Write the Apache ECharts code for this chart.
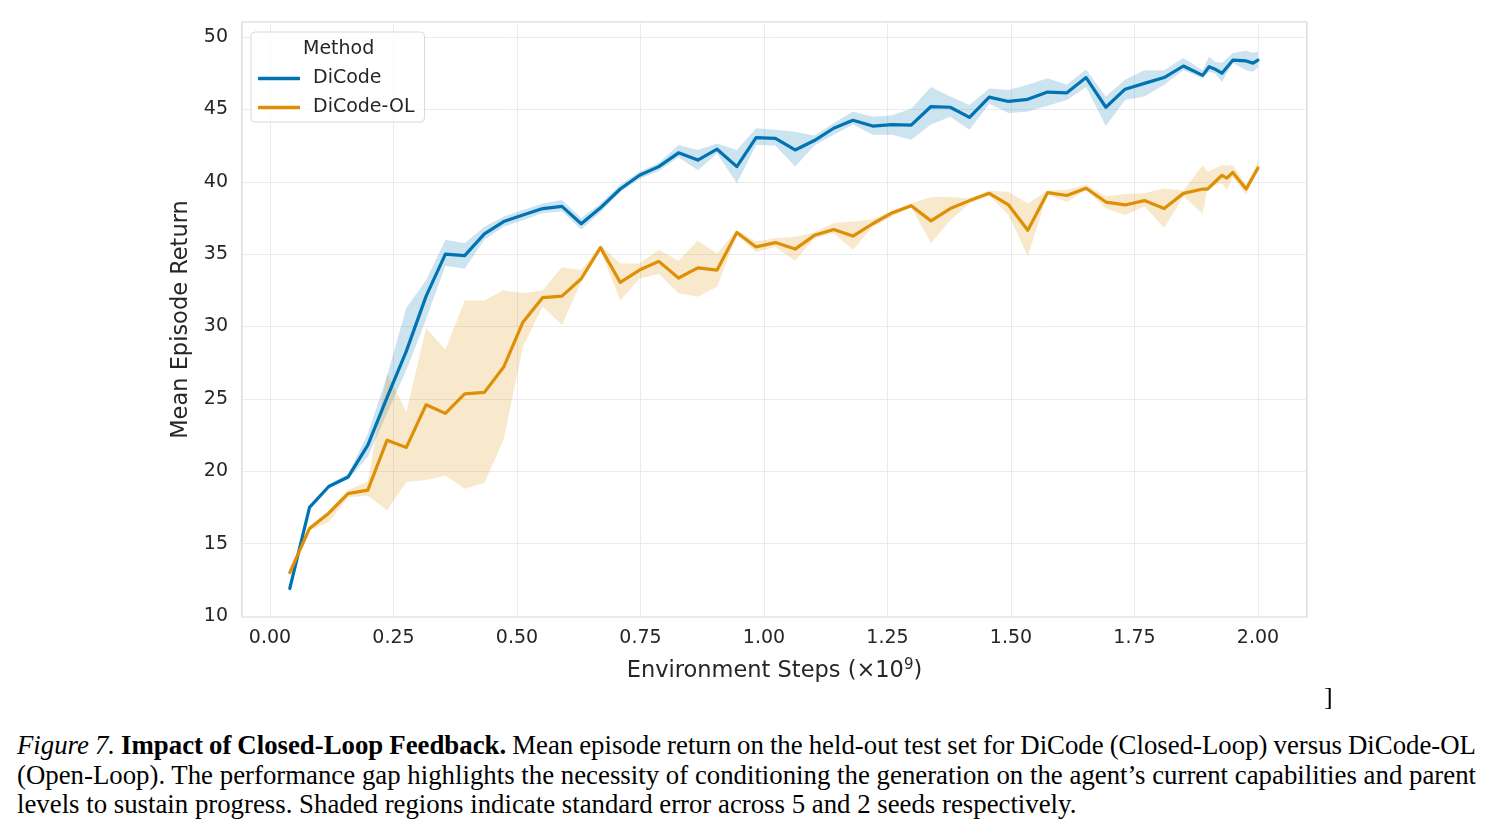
<!DOCTYPE html>
<html>
<head>
<meta charset="utf-8">
<script src="https://cdn.jsdelivr.net/npm/echarts@6/dist/echarts.min.js"></script>
<style>
  html, body { margin:0; padding:0; background:#fff; }
  #wrap { position:relative; width:1492px; height:835px; overflow:hidden; background:#fff; }
  #chart { position:absolute; left:0; top:0; width:1492px; height:700px; }
  .cap { position:absolute; left:17px; width:1459px; height:30px; line-height:30px;
         font-family:"Liberation Serif","Times New Roman",serif; font-size:26.8px; color:#000; white-space:nowrap; }
  .just { text-align:justify; text-align-last:justify; }
  #bracket { position:absolute; left:1324px; top:682px; font-family:"Liberation Serif",serif; font-size:26px; color:#000; }
</style>
</head>
<body>
<div id="wrap">
  <div id="chart"></div>
  <div id="bracket">]</div>
  <div class="cap just" style="top:730px; word-spacing:-0.8px;"><i>Figure 7.</i> <b>Impact of Closed-Loop Feedback.</b> Mean episode return on the held-out test set for DiCode (Closed-Loop) versus DiCode-OL</div>
  <div class="cap just" style="top:760px;">(Open-Loop). The performance gap highlights the necessity of conditioning the generation on the agent’s current capabilities and parent</div>
  <div class="cap" style="top:789px;">levels to sustain progress. Shaded regions indicate standard error across 5 and 2 seeds respectively.</div>
</div>
<script>
// ---- data (x in units of 1e9 environment steps) ----
const xTickLabels = ['0.00','0.25','0.50','0.75','1.00','1.25','1.50','1.75','2.00'];
const yTickLabels = ['10','15','20','25','30','35','40','45','50'];

const dicodeSteps = [0.040,0.080,0.119,0.158,0.198,0.237,0.276,0.316,0.355,0.394,0.434,0.473,0.512,0.552,0.591,0.630,
  0.669,0.709,0.748,0.787,0.827,0.866,0.905,0.945,0.984,1.023,1.063,1.102,1.141,1.180,1.220,1.259,1.298,1.338,1.377,
  1.416,1.456,1.495,1.534,1.574,1.613,1.652,1.692,1.731,1.770,1.810,1.849,1.888,1.901,1.912,1.927,1.949,1.976,1.990,2.000];
const dicodeMean = [11.9,17.5,18.95,19.6,21.8,25.1,28.3,32.1,35.0,34.9,36.4,37.25,37.7,38.15,38.3,37.1,
  38.2,39.5,40.45,41.05,42.0,41.5,42.25,41.05,43.05,43.0,42.2,42.85,43.7,44.25,43.85,43.95,43.92,45.2,45.15,
  44.45,45.85,45.55,45.7,46.2,46.15,47.2,45.15,46.4,46.8,47.2,48.0,47.35,47.95,47.8,47.5,48.4,48.35,48.2,48.4];
const dicodeLow = [11.8,17.35,18.85,19.45,21.0,24.0,27.0,30.5,34.2,34.0,36.0,36.9,37.35,37.85,37.95,36.7,
  37.9,39.3,40.2,40.75,41.7,40.8,41.95,39.9,42.55,42.5,41.05,42.5,43.25,43.95,43.25,43.25,42.9,43.95,44.5,
  43.6,45.4,44.75,44.85,45.25,45.65,46.55,43.85,45.65,45.9,46.7,47.7,47.15,47.6,47.5,46.9,48.2,47.7,47.6,47.9];
const dicodeHigh = [12.0,17.65,19.1,19.8,22.6,26.6,31.3,33.2,36.0,35.75,36.9,37.6,38.05,38.5,38.75,37.5,
  38.5,39.8,40.7,41.3,42.55,42.2,42.65,42.2,43.7,43.6,43.45,43.2,44.05,44.85,44.5,44.6,45.05,46.55,45.9,
  45.3,46.45,46.35,46.7,47.15,46.7,47.75,45.9,47.05,47.7,47.7,48.55,47.7,48.65,48.3,48.2,48.9,49.05,48.9,49.0];

const olSteps = [0.040,0.080,0.119,0.158,0.198,0.237,0.276,0.316,0.355,0.394,0.434,0.473,0.512,0.552,0.591,0.630,
  0.669,0.709,0.748,0.787,0.827,0.866,0.905,0.945,0.984,1.023,1.063,1.102,1.141,1.180,1.220,1.259,1.298,1.338,1.377,
  1.416,1.456,1.495,1.534,1.574,1.613,1.652,1.692,1.731,1.770,1.810,1.849,1.888,1.898,1.927,1.937,1.949,1.976,2.000];
const olMean = [13.0,16.05,17.1,18.45,18.7,22.15,21.65,24.6,24.0,25.35,25.45,27.2,30.3,32.0,32.1,33.3,
  35.45,33.05,33.9,34.5,33.35,34.05,33.9,36.5,35.5,35.8,35.35,36.3,36.7,36.25,37.1,37.85,38.35,37.3,38.15,
  38.7,39.2,38.4,36.65,39.25,39.05,39.55,38.6,38.4,38.7,38.15,39.2,39.5,39.5,40.45,40.25,40.65,39.5,40.95];
const olLow = [12.9,15.9,16.5,18.2,18.3,17.3,19.25,19.4,19.7,18.8,19.2,22.2,28.6,31.4,30.1,33.1,
  35.25,31.8,33.3,33.65,32.3,32.05,32.75,36.3,35.15,35.5,34.55,36.1,36.45,35.3,36.9,37.6,38.25,35.75,37.35,
  38.5,39.05,37.7,34.85,39.1,38.6,39.45,38.15,37.7,38.3,36.8,39.0,37.8,39.6,39.9,39.45,40.3,39.1,40.85];
const olHigh = [13.1,16.2,17.3,18.7,19.3,26.8,24.1,29.9,28.4,31.8,31.8,32.5,32.3,32.5,34.1,33.9,
  35.65,34.35,34.35,35.3,34.55,35.95,35.05,36.65,35.9,36.1,36.2,36.5,37.15,37.25,37.4,38.0,38.5,38.95,38.95,
  38.85,39.4,39.3,38.5,39.4,39.45,39.8,39.0,39.15,39.2,39.55,39.4,41.15,40.7,41.15,41.15,41.15,39.8,41.4];

// ---- styling ----
const BLUE = '#0173b2', ORANGE = '#de8f05';
const TXT = '#262626';
const FONT = 'DejaVu Sans';

function bandSeries(name, xs, lo, hi, fill) {
  const data = xs.map((x, i) => [x, lo[i], hi[i]]);
  return {
    type: 'custom', name: name + ' band', data: data, silent: true, z: 1,
    encode: { x: 0, y: [1, 2] },
    renderItem: function (params, api) {
      if (params.dataIndex !== 0) return null;
      const up = data.map(d => api.coord([d[0], d[2]]));
      const dn = data.map(d => api.coord([d[0], d[1]])).reverse();
      return { type: 'polygon', shape: { points: up.concat(dn) }, style: { fill: fill, stroke: null } };
    }
  };
}
function lineSeries(name, xs, ys, color) {
  return {
    type: 'line', name: name, data: xs.map((x, i) => [x, ys[i]]),
    showSymbol: false, symbol: 'none', z: 3, animation: false,
    lineStyle: { color: color, width: 3.2, join: 'round', cap: 'round' },
    itemStyle: { color: color }
  };
}

const chart = echarts.init(document.getElementById('chart'), null, { renderer: 'canvas' });
chart.setOption({
  animation: false,
  textStyle: { fontFamily: FONT, color: TXT },
  grid: { left: 242, top: 22, width: 1065, height: 595, show: true, borderColor: '#cccccc', borderWidth: 1.25, backgroundColor: '#fff' },
  xAxis: {
    type: 'value', min: -0.0567, max: 2.0992, minInterval: 0.25, maxInterval: 0.25, splitNumber: 8,
    axisLine: { show: false }, axisTick: { show: false },
    axisLabel: { showMinLabel: false, showMaxLabel: false, margin: 12, fontSize: 19, color: TXT, fontFamily: FONT,
      formatter: v => xTickLabels[Math.round(v / 0.25)] },
    splitLine: { show: true, lineStyle: { color: '#ebebeb', width: 1 } },
    name: 'Environment Steps (×10{sup|9})', nameLocation: 'middle', nameGap: 41,
    nameTextStyle: { fontSize: 22.5, color: TXT, fontFamily: FONT,
      rich: { sup: { fontSize: 15, verticalAlign: 'top', padding: [0, 0, 11, 0], color: TXT, fontFamily: FONT } } }
  },
  yAxis: {
    type: 'value', min: 9.931, max: 51.04, minInterval: 5, maxInterval: 5, splitNumber: 8,
    axisLine: { show: false }, axisTick: { show: false },
    axisLabel: { showMinLabel: false, showMaxLabel: false, margin: 14, fontSize: 19, color: TXT, fontFamily: FONT,
      formatter: v => yTickLabels[Math.round((v - 10) / 5)] },
    splitLine: { show: true, lineStyle: { color: '#ebebeb', width: 1 } },
    name: 'Mean Episode Return', nameLocation: 'middle', nameGap: 40,
    nameTextStyle: { fontSize: 22.5, color: TXT, fontFamily: FONT }
  },
  legend: {
    data: [{ name: 'DiCode', icon: 'roundRect' }, { name: 'DiCode-OL', icon: 'roundRect' }],
    orient: 'vertical', left: 251, top: 32,
    padding: [37, 10, 5, 7], itemGap: 10, itemWidth: 42, itemHeight: 3.5,
    backgroundColor: 'rgba(255,255,255,0.8)', borderColor: '#d9d9d9', borderWidth: 1, borderRadius: 4,
    textStyle: { fontSize: 19, color: TXT, fontFamily: FONT, padding: [0, 0, 0, 8] }
  },
  graphic: [
    { type: 'text', left: 303, top: 40, z: 100,
      style: { text: 'Method', fontSize: 19, fill: TXT, fontFamily: FONT } }
  ],
  series: [
    bandSeries('DiCode', dicodeSteps, dicodeLow, dicodeHigh, 'rgba(1,115,178,0.2)'),
    bandSeries('DiCode-OL', olSteps, olLow, olHigh, 'rgba(222,143,5,0.2)'),
    lineSeries('DiCode', dicodeSteps, dicodeMean, BLUE),
    lineSeries('DiCode-OL', olSteps, olMean, ORANGE)
  ]
});
</script>
</body>
</html>
